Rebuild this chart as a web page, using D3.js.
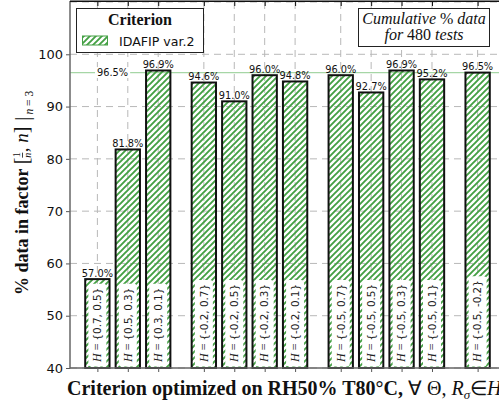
<!DOCTYPE html>
<html><head><meta charset="utf-8">
<script src="https://cdn.jsdelivr.net/npm/d3@7"></script>
<style>html,body{margin:0;padding:0;background:#fff;overflow:hidden}</style>
</head><body>
<svg id="chart" width="499" height="405"></svg>
<script>
// ---- data ----
const positions = [0, 1, 2, 3.5, 4.5, 5.5, 6.5, 8, 9, 10, 11, 12.5];
const values = [57.0, 81.8, 96.9, 94.6, 91.0, 96.0, 94.8, 96.0, 92.7, 96.9, 95.2, 96.5];
const hSets = ["{0.7, 0.5}", "{0.5, 0.3}", "{0.3, 0.1}", "{-0.2, 0.7}", "{-0.2, 0.5}", "{-0.2, 0.3}",
               "{-0.2, 0.1}", "{-0.5, 0.7}", "{-0.5, 0.5}", "{-0.5, 0.3}", "{-0.5, 0.1}", "{-0.5, -0.2}"];
const yTicks = [40, 50, 60, 70, 80, 90, 100];
const cumulativeValue = 96.5;
const legendLabel = "IDAFIP var.2";
const legendTitle = "Criterion";

// ---- setup ----
const svg = d3.select("#chart");
const green = "#44a044";
const x = d3.scaleLinear().domain([-0.9, 13.4]).range([70, 505]);
const y = d3.scaleLinear().domain([40, 110]).range([368, 2]);
const barW = x(0.8) - x(0);

const defs = svg.append("defs");
const pat = defs.append("pattern").attr("id", "hatch").attr("patternUnits", "userSpaceOnUse")
  .attr("width", 6).attr("height", 6);
pat.append("path").attr("d", "M-1,1 l2,-2 M0,6 l6,-6 M5,7 l2,-2")
  .attr("stroke", green).attr("stroke-width", 1.9).attr("fill", "none");

// grid
const grid = svg.append("g");
grid.selectAll("line.h").data(yTicks.concat([110])).join("line")
  .attr("x1", 70).attr("x2", 499).attr("y1", d => y(d)).attr("y2", d => y(d))
  .attr("stroke", "#b8b8b8").attr("stroke-width", 1).attr("stroke-dasharray", "7,5");
grid.selectAll("line.v").data(positions).join("line")
  .attr("x1", d => x(d)).attr("x2", d => x(d)).attr("y1", 2).attr("y2", 368)
  .attr("stroke", "#b8b8b8").attr("stroke-width", 1).attr("stroke-dasharray", "7,5");

// cumulative line
svg.append("line").attr("x1", 70).attr("x2", 499)
  .attr("y1", y(cumulativeValue)).attr("y2", y(cumulativeValue))
  .attr("stroke", "#a6d6a6").attr("stroke-width", 1.2);

// bars
const bars = svg.append("g");
bars.selectAll("rect").data(values).join("rect")
  .attr("x", (d, i) => x(positions[i]) - barW / 2)
  .attr("width", barW)
  .attr("y", d => y(d))
  .attr("height", d => y(40) - y(d))
  .attr("fill", "url(#hatch)")
  .attr("stroke", "#111").attr("stroke-width", 2);

// inner labels
const lab = svg.append("g");
hSets.forEach((s, i) => {
  const cx = x(positions[i]);
  const g = lab.append("g");
  const t = g.append("text")
    .attr("transform", `translate(${cx + 3.8},362) rotate(-90)`)
    .attr("font-size", 10.4).attr("fill", "#222");
  t.append("tspan").attr("font-family", "Liberation Serif").attr("font-style", "italic").attr("font-size", 12).text("H");
  t.append("tspan").attr("font-family", "Liberation Serif").attr("font-size", 12).text(" = ");
  t.append("tspan").attr("font-family", "DejaVu Sans").text(s);
  const len = t.node().getComputedTextLength();
  g.insert("rect", "text")
    .attr("x", cx - 9).attr("width", 18)
    .attr("y", 362 - len - 4).attr("height", len + 4 + 4.5)
    .attr("rx", 3).attr("fill", "#fff");
});

// value labels
svg.append("g").selectAll("text").data(values).join("text")
  .attr("x", (d, i) => x(positions[i])).attr("y", d => y(d) - 2.5)
  .attr("text-anchor", "middle").attr("font-family", "DejaVu Sans").attr("font-size", 9.8)
  .attr("fill", "#111").text(d => d.toFixed(1) + "%");

// cumulative label
{
  const t = svg.append("text").attr("x", x(0.5)).attr("y", y(cumulativeValue) + 3.5)
    .attr("text-anchor", "middle").attr("font-family", "DejaVu Sans").attr("font-size", 9.8)
    .attr("fill", "#111").text(cumulativeValue.toFixed(1) + "%");
  const b = t.node().getBBox();
  svg.insert("rect", () => t.node()).attr("x", b.x - 2).attr("y", b.y).attr("width", b.width + 4)
    .attr("height", b.height).attr("fill", "#fff");
}

// axes
const yAxis = svg.append("g").attr("transform", "translate(70,0)")
  .call(d3.axisLeft(y).tickValues(yTicks).tickSize(4).tickPadding(3));
yAxis.select(".domain").remove();
yAxis.selectAll("line").attr("stroke", "#555");
yAxis.selectAll("text").attr("font-family", "DejaVu Sans").attr("font-size", 13).attr("fill", "#111");

const xAxis = svg.append("g").attr("transform", "translate(0,368)")
  .call(d3.axisBottom(x).tickValues(positions).tickSize(4).tickFormat(""));
xAxis.select(".domain").remove();
xAxis.selectAll("line").attr("stroke", "#555");

const xTop = svg.append("g").attr("transform", "translate(0,2)")
  .call(d3.axisBottom(x).tickValues(positions).tickSize(4).tickFormat(""));
xTop.select(".domain").remove();
xTop.selectAll("line").attr("stroke", "#111");

svg.append("line").attr("x1", 70).attr("x2", 70).attr("y1", 1).attr("y2", 368.5).attr("stroke", "#666").attr("stroke-width", 1.5);
svg.append("line").attr("x1", 70).attr("x2", 499).attr("y1", 368).attr("y2", 368).attr("stroke", "#666").attr("stroke-width", 1.5);
svg.append("line").attr("x1", 70).attr("x2", 499).attr("y1", 1.2).attr("y2", 1.2).attr("stroke", "#111").attr("stroke-width", 1.5);

// legend
const lg = svg.append("g");
lg.append("rect").attr("x", 76.5).attr("y", 8.5).attr("width", 127).attr("height", 44)
  .attr("fill", "#fff").attr("stroke", "#222").attr("stroke-width", 1);
lg.append("text").attr("x", 140).attr("y", 25).attr("text-anchor", "middle")
  .attr("font-family", "Liberation Serif").attr("font-weight", "bold").attr("font-size", 16)
  .attr("fill", "#111").text(legendTitle);
lg.append("rect").attr("x", 82.5).attr("y", 36).attr("width", 25).attr("height", 9)
  .attr("fill", "url(#hatch)").attr("stroke", green).attr("stroke-width", 1);
lg.append("text").attr("x", 119).attr("y", 45.5)
  .attr("font-family", "DejaVu Sans").attr("font-size", 12.6).attr("fill", "#111").text(legendLabel);

// annotation
const an = svg.append("g");
an.append("rect").attr("x", 358.5).attr("y", 8.5).attr("width", 131).attr("height", 38)
  .attr("fill", "#fff").attr("stroke", "#222").attr("stroke-width", 1);
const a1 = an.append("text").attr("x", 424).attr("y", 24).attr("text-anchor", "middle")
  .attr("font-family", "Liberation Serif").attr("font-size", 16).attr("fill", "#111");
a1.append("tspan").attr("font-style", "italic").text("Cumulative ");
a1.append("tspan").text("%");
a1.append("tspan").attr("font-style", "italic").text(" data");
const a2 = an.append("text").attr("x", 424).attr("y", 40).attr("text-anchor", "middle")
  .attr("font-family", "Liberation Serif").attr("font-size", 16).attr("fill", "#111");
a2.append("tspan").attr("font-style", "italic").text("for ");
a2.append("tspan").text("480");
a2.append("tspan").attr("font-style", "italic").text(" tests");

// helper: sequential runs of text
function runs(g, parts) {
  let cx = 0;
  parts.forEach(p => {
    const t = g.append("text").attr("x", cx + (p.dx || 0)).attr("y", p.dy || 0)
      .attr("font-family", p.family || "Liberation Serif")
      .attr("font-size", p.size || 18)
      .attr("font-weight", p.weight || "normal")
      .attr("font-style", p.style || "normal")
      .attr("fill", "#111")
      .style("white-space", "pre")
      .text(p.t);
    const w = t.node().getComputedTextLength();
    if (p.line) {
      g.append("line").attr("x1", cx + (p.dx || 0)).attr("x2", cx + (p.dx || 0) + w)
        .attr("y1", p.line).attr("y2", p.line).attr("stroke", "#111").attr("stroke-width", 0.8);
    }
    if (!p.noAdvance) cx += w + (p.dx || 0);
    if (p.advance) cx += p.advance;
  });
  return cx;
}

// y label
const yl = svg.append("g").attr("transform", "translate(28,295) rotate(-90)");
runs(yl, [
  { t: "% data in factor ", weight: "bold", size: 18 },
  { t: "[", size: 20 },
  { t: "1", size: 10, dy: -8, dx: 0.5, noAdvance: true },
  { t: "n", size: 10, style: "italic", dy: 3, dx: 0, line: -5.5 },
  { t: ", ", size: 19, dx: 0.5 },
  { t: "n", size: 19, style: "italic" },
  { t: "]", size: 20 },
  { t: " |", size: 22, dy: 1 },
  { t: "n", size: 11.5, style: "italic", dy: 5, dx: 2 },
  { t: " = 3", size: 11.5, dy: 5 }
]);

// x label
const xl = svg.append("g").attr("transform", "translate(67,395)");
runs(xl, [
  { t: "Criterion optimized on RH50% T80°C, ", weight: "bold", size: 20 },
  { t: "∀ Θ, ", size: 20 },
  { t: "R", size: 20, style: "italic" },
  { t: "σ", size: 13, style: "italic", dy: 4 },
  { t: "∈", size: 20 },
  { t: "H", size: 20, style: "italic" }
]);
</script>
</body></html>
